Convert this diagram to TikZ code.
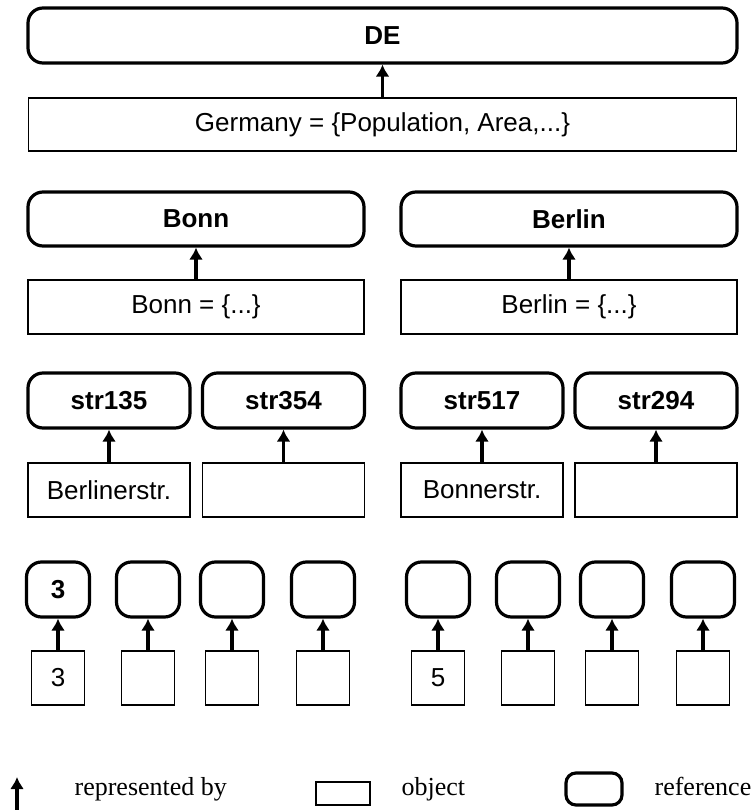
\documentclass[tikz,border=0pt]{standalone}
\usepackage{fontspec}
\setmainfont{Liberation Serif}
\setsansfont{Liberation Sans}
\usepackage{tikz}
\usetikzlibrary{arrows.meta}

\tikzset{
    refbox/.style={draw, line width=3.2pt, rounded corners=15pt, inner sep=0pt,
        font=\sffamily\bfseries\fontsize{26}{30}\selectfont},
    objbox/.style={draw, line width=1.6pt, inner sep=0pt,
        font=\sffamily\fontsize{26}{30}\selectfont},
    legtext/.style={inner sep=0pt, anchor=base west, font=\fontsize{26}{30}\selectfont}
}

\begin{document}
\begin{tikzpicture}[x=1pt, y=-1pt, >={Latex[length=12pt,width=14pt]}]
    \useasboundingbox (0,0) rectangle (753,810);
    \tikzset{every path/.append style={line width=3.2pt}}

    % Land
    \node[refbox, minimum width=709pt, minimum height=55pt] (de) at (382.5,35.5) {DE};
    \node[objbox, minimum width=708pt, minimum height=53pt] (germany) at (382.5,124.5)
        {Germany = \{Population, Area,...\}};
    \draw[->] (germany) -- (de);

    % Staedte
    \node[refbox, minimum width=336pt, minimum height=54pt] (bonnref) at (196,219) {Bonn};
    \node[objbox, minimum width=336pt, minimum height=54pt] (bonnobj) at (196,307) {Bonn = \{...\}};
    \node[refbox, minimum width=336pt, minimum height=54pt] (berlinref) at (569,219) {Berlin};
    \node[objbox, minimum width=336pt, minimum height=54pt] (berlinobj) at (569,307) {Berlin = \{...\}};
    \draw[->] (bonnobj) -- (bonnref);
    \draw[->] (berlinobj) -- (berlinref);

    % Strassen
    \foreach \x/\r/\o in {109/str135/Berlinerstr., 283.5/str354/{}, 482/str517/Bonnerstr., 656/str294/{}} {
        \node[refbox, minimum width=162pt, minimum height=55pt] (sr\r) at (\x,400.5) {\r};
        \node[objbox, minimum width=162pt, minimum height=54pt] (so\r) at (\x,490) {\o};
        \draw[->] (so\r) -- (sr\r);
    }

    % Hausnummern
    \foreach \x/\v [count=\i] in {58/3, 148/{}, 232/{}, 323/{}, 438/5, 528/{}, 612/{}, 703/{}} {
        \node[refbox, minimum width=63pt, minimum height=55pt] (nr\i) at (\x,589.5) {\ifnum\i=1 3\fi};
        \node[objbox, minimum width=53pt, minimum height=54pt] (no\i) at (\x,678) {\v};
        \draw[->] (no\i) -- (nr\i);
    }

    % Legende
    \coordinate (legfrom) at (17,810);
    \coordinate (legto) at (17,777);
    \draw[->] (legfrom) -- (legto);
    \node[legtext] (legrep) at (73,795) {represented by};
    \node[objbox, minimum width=54pt, minimum height=23pt] (legobj) at (343,793.5) {};
    \node[legtext] (legobjtext) at (400,795) {object};
    \node[refbox, rounded corners=10pt, minimum width=56pt, minimum height=32pt] (legref) at (594,789) {};
    \node[legtext] (legreftext) at (653,795) {reference};
\end{tikzpicture}
\end{document}
